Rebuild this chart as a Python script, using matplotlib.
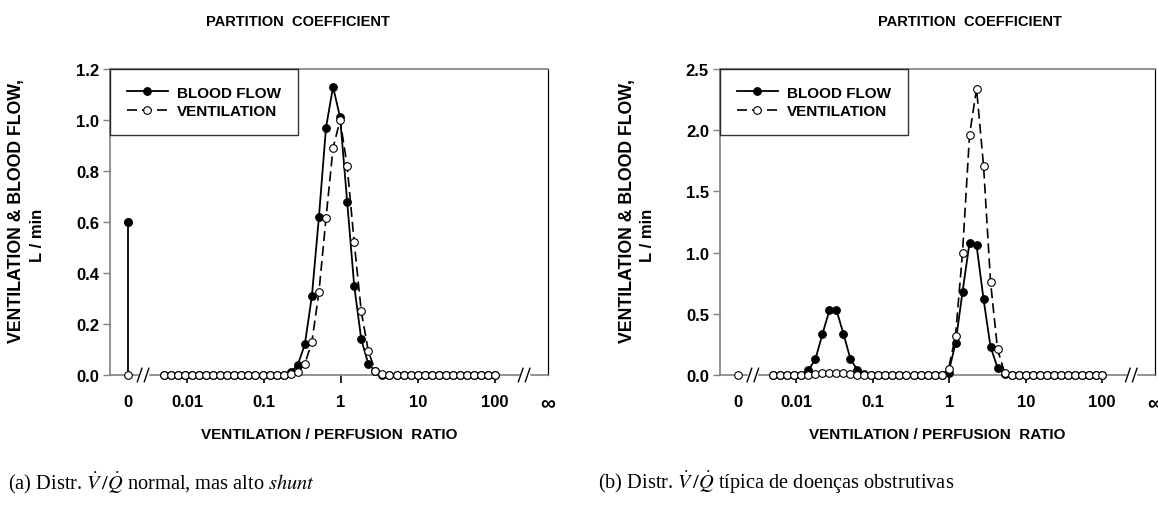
import matplotlib.pyplot as plt
from matplotlib.ticker import NullLocator

plt.rcParams['font.family'] = ['Liberation Sans', 'DejaVu Sans']
plt.rcParams['axes.labelweight'] = 'bold'
plt.rcParams['mathtext.fontset'] = 'stix'

# V/Q compartments (48 log-spaced values between 0.005 and 100)
VQ = [0.005, 0.00617, 0.00762, 0.00941, 0.01162, 0.01435, 0.01772, 0.02189,
      0.02703, 0.03337, 0.04121, 0.05089, 0.06284, 0.07760, 0.09582, 0.1183,
      0.1461, 0.1804, 0.2228, 0.2751, 0.3397, 0.4195, 0.5180, 0.6397,
      0.7899, 0.9754, 1.2045, 1.487, 1.837, 2.268, 2.801, 3.458,
      4.271, 5.273, 6.512, 8.041, 9.929, 12.26, 15.14, 18.70,
      23.09, 28.51, 35.20, 43.47, 53.68, 66.29, 81.86, 100.0]

# (a) normal distribution, high shunt
BLOOD_A = [0, 0, 0, 0, 0, 0, 0, 0,
           0, 0, 0, 0, 0, 0, 0, 0,
           0, 0, 0.01, 0.04, 0.12, 0.31, 0.62, 0.97,
           1.13, 1.01, 0.68, 0.35, 0.14, 0.043, 0.015, 0,
           0, 0, 0, 0, 0, 0, 0, 0,
           0, 0, 0, 0, 0, 0, 0, 0]
VENT_A = [0, 0, 0, 0, 0, 0, 0, 0,
          0, 0, 0, 0, 0, 0, 0, 0,
          0, 0, 0.005, 0.01, 0.043, 0.13, 0.325, 0.615,
          0.89, 1.0, 0.82, 0.52, 0.25, 0.094, 0.015, 0.003,
          0, 0, 0, 0, 0, 0, 0, 0,
          0, 0, 0, 0, 0, 0, 0, 0]
SHUNT_BLOOD_A = 0.6
SHUNT_VENT_A = 0.0

# (b) obstructive disease
BLOOD_B = [0, 0, 0, 0, 0, 0.04, 0.13, 0.336,
           0.53, 0.53, 0.336, 0.13, 0.04, 0.005, 0, 0,
           0, 0, 0, 0, 0, 0, 0, 0,
           0, 0.02, 0.26, 0.68, 1.08, 1.06, 0.62, 0.23,
           0.06, 0.01, 0, 0, 0, 0, 0, 0,
           0, 0, 0, 0, 0, 0, 0, 0]
VENT_B = [0, 0, 0, 0, 0, 0, 0.01, 0.015,
          0.02, 0.02, 0.015, 0.01, 0, 0, 0, 0,
          0, 0, 0, 0, 0, 0, 0, 0,
          0, 0.05, 0.32, 1.0, 1.96, 2.34, 1.71, 0.76,
          0.21, 0.02, 0, 0, 0, 0, 0, 0,
          0, 0, 0, 0, 0, 0, 0, 0]
SHUNT_BLOOD_B = 0.0
SHUNT_VENT_B = 0.0

X_TICKS = [0.01, 0.1, 1, 10, 100]
X_TICK_LABELS = ['0.01', '0.1', '1', '10', '100']
Y_TICKS_A = [0.0, 0.2, 0.4, 0.6, 0.8, 1.0, 1.2]
Y_TICKS_B = [0.0, 0.5, 1.0, 1.5, 2.0, 2.5]

# stand-in positions for V/Q = 0 and V/Q = infinity on the log axis
SHUNT_X = 10 ** -2.77
DEAD_X = 10 ** 2.69
X_MIN = 10 ** -3.0
BREAKS = [10 ** -2.57, 10 ** 2.38]

GRAY = '#808080'


def draw_break(ax, bx):
    tr = ax.get_xaxis_transform()
    ax.plot([bx / 10 ** 0.045, bx * 10 ** 0.045], [0, 0], color='white',
            lw=2.5, transform=tr, clip_on=False, zorder=4)
    for off in (-0.045, 0.045):
        c = bx * 10 ** off
        ax.plot([c / 10 ** 0.03, c * 10 ** 0.03], [-0.022, 0.022], color='black',
                lw=1.0, transform=tr, clip_on=False, zorder=5)


def panel(ax, blood, vent, shunt_blood, shunt_vent, yticks, ymax):
    ax.set_xscale('log')
    ax.set_xlim(X_MIN, DEAD_X)
    ax.set_ylim(0, ymax)

    lb, = ax.plot(VQ, blood, '-', color='black', lw=1.3, marker='o', ms=5.5,
                  mfc='black', mec='black', mew=0.8, zorder=3, label='BLOOD FLOW',
                  clip_on=False)
    lv, = ax.plot(VQ, vent, '--', color='black', lw=1.2, dashes=(6, 3), marker='o',
                  ms=5.5, mfc='white', mec='black', mew=0.8, zorder=3.5,
                  label='VENTILATION', clip_on=False)

    # shunt compartment
    if shunt_blood > 0:
        ax.plot([SHUNT_X, SHUNT_X], [0, shunt_blood], color='black', lw=1.3, zorder=3)
        ax.plot([SHUNT_X], [shunt_blood], 'o', ms=5.5, color='black', zorder=3)
    ax.plot([SHUNT_X], [shunt_vent], 'o', ms=5.5, mfc='white', mec='black',
            mew=0.8, zorder=4, clip_on=False)

    for bx in BREAKS:
        draw_break(ax, bx)

    ax.xaxis.set_minor_locator(NullLocator())
    ax.set_xticks([SHUNT_X] + X_TICKS + [DEAD_X])
    ax.set_xticklabels(['0'] + X_TICK_LABELS + ['\u221e'], fontweight='bold')
    ax.tick_params(axis='x', length=6, width=1.2, color='black', pad=8,
                   labelsize=12)
    xt = ax.xaxis.get_major_ticks()
    xt[0].tick1line.set_visible(False)
    xt[-1].tick1line.set_visible(False)
    xt[-1].label1.set_fontsize(15)

    ax.set_yticks(yticks)
    ax.set_yticklabels(['%.1f' % v for v in yticks], fontweight='bold')
    ax.tick_params(axis='y', length=5, width=1, color=GRAY, pad=3, labelsize=12)

    for side in ('left', 'top', 'bottom'):
        ax.spines[side].set_color(GRAY)
        ax.spines[side].set_linewidth(1.2)
    ax.spines['right'].set_color('black')
    ax.spines['right'].set_linewidth(0.9)

    ax.set_xlabel('VENTILATION / PERFUSION  RATIO', fontsize=11, labelpad=10)
    # two-line y label, placed line by line
    ax.text(-0.213, 0.539, 'VENTILATION & BLOOD FLOW,', rotation=90, ha='center',
            va='center', fontsize=12.8, fontweight='bold', transform=ax.transAxes)
    ax.text(-0.166, 0.458, 'L / min', rotation=90, ha='center', va='center',
            fontsize=12, fontweight='bold', transform=ax.transAxes)

    leg = ax.legend(handles=[lb, lv], loc='upper left', bbox_to_anchor=(0, 1),
                    borderaxespad=0, frameon=True, fancybox=False,
                    prop={'size': 11, 'weight': 'bold'},
                    handlelength=2.7, handletextpad=0.6, borderpad=1.1,
                    labelspacing=0.3, markerscale=1.0)
    leg.get_frame().set_edgecolor('black')
    leg.get_frame().set_linewidth(1.0)


fig = plt.figure(figsize=(11.58, 5.10), dpi=100)
ax1 = fig.add_axes([110 / 1158, 134 / 510, 438 / 1158, 306 / 510])
ax2 = fig.add_axes([720 / 1158, 134 / 510, 435 / 1158, 306 / 510])

panel(ax1, BLOOD_A, VENT_A, SHUNT_BLOOD_A, SHUNT_VENT_A, Y_TICKS_A, 1.2)
panel(ax2, BLOOD_B, VENT_B, SHUNT_BLOOD_B, SHUNT_VENT_B, Y_TICKS_B, 2.5)

fig.text(298 / 1158, 1 - 22 / 510, 'PARTITION  COEFFICIENT', ha='center',
         va='center', fontsize=10.5, fontweight='bold')
fig.text(970 / 1158, 1 - 22 / 510, 'PARTITION  COEFFICIENT', ha='center',
         va='center', fontsize=10.5, fontweight='bold')

cap = dict(fontsize=14.7, family='Liberation Serif', ha='left', va='center')
fig.text(8 / 1158, 1 - 483 / 510,
         r'(a) Distr. $\dot{V}\,/\dot{Q}$ normal, mas alto $\mathit{shunt}$', **cap)
fig.text(598 / 1158, 1 - 483 / 510,
         r'(b) Distr. $\dot{V}\,/\dot{Q}$ típica de doenças obstrutivas', **cap)

fig.savefig('out.png', dpi=100)
